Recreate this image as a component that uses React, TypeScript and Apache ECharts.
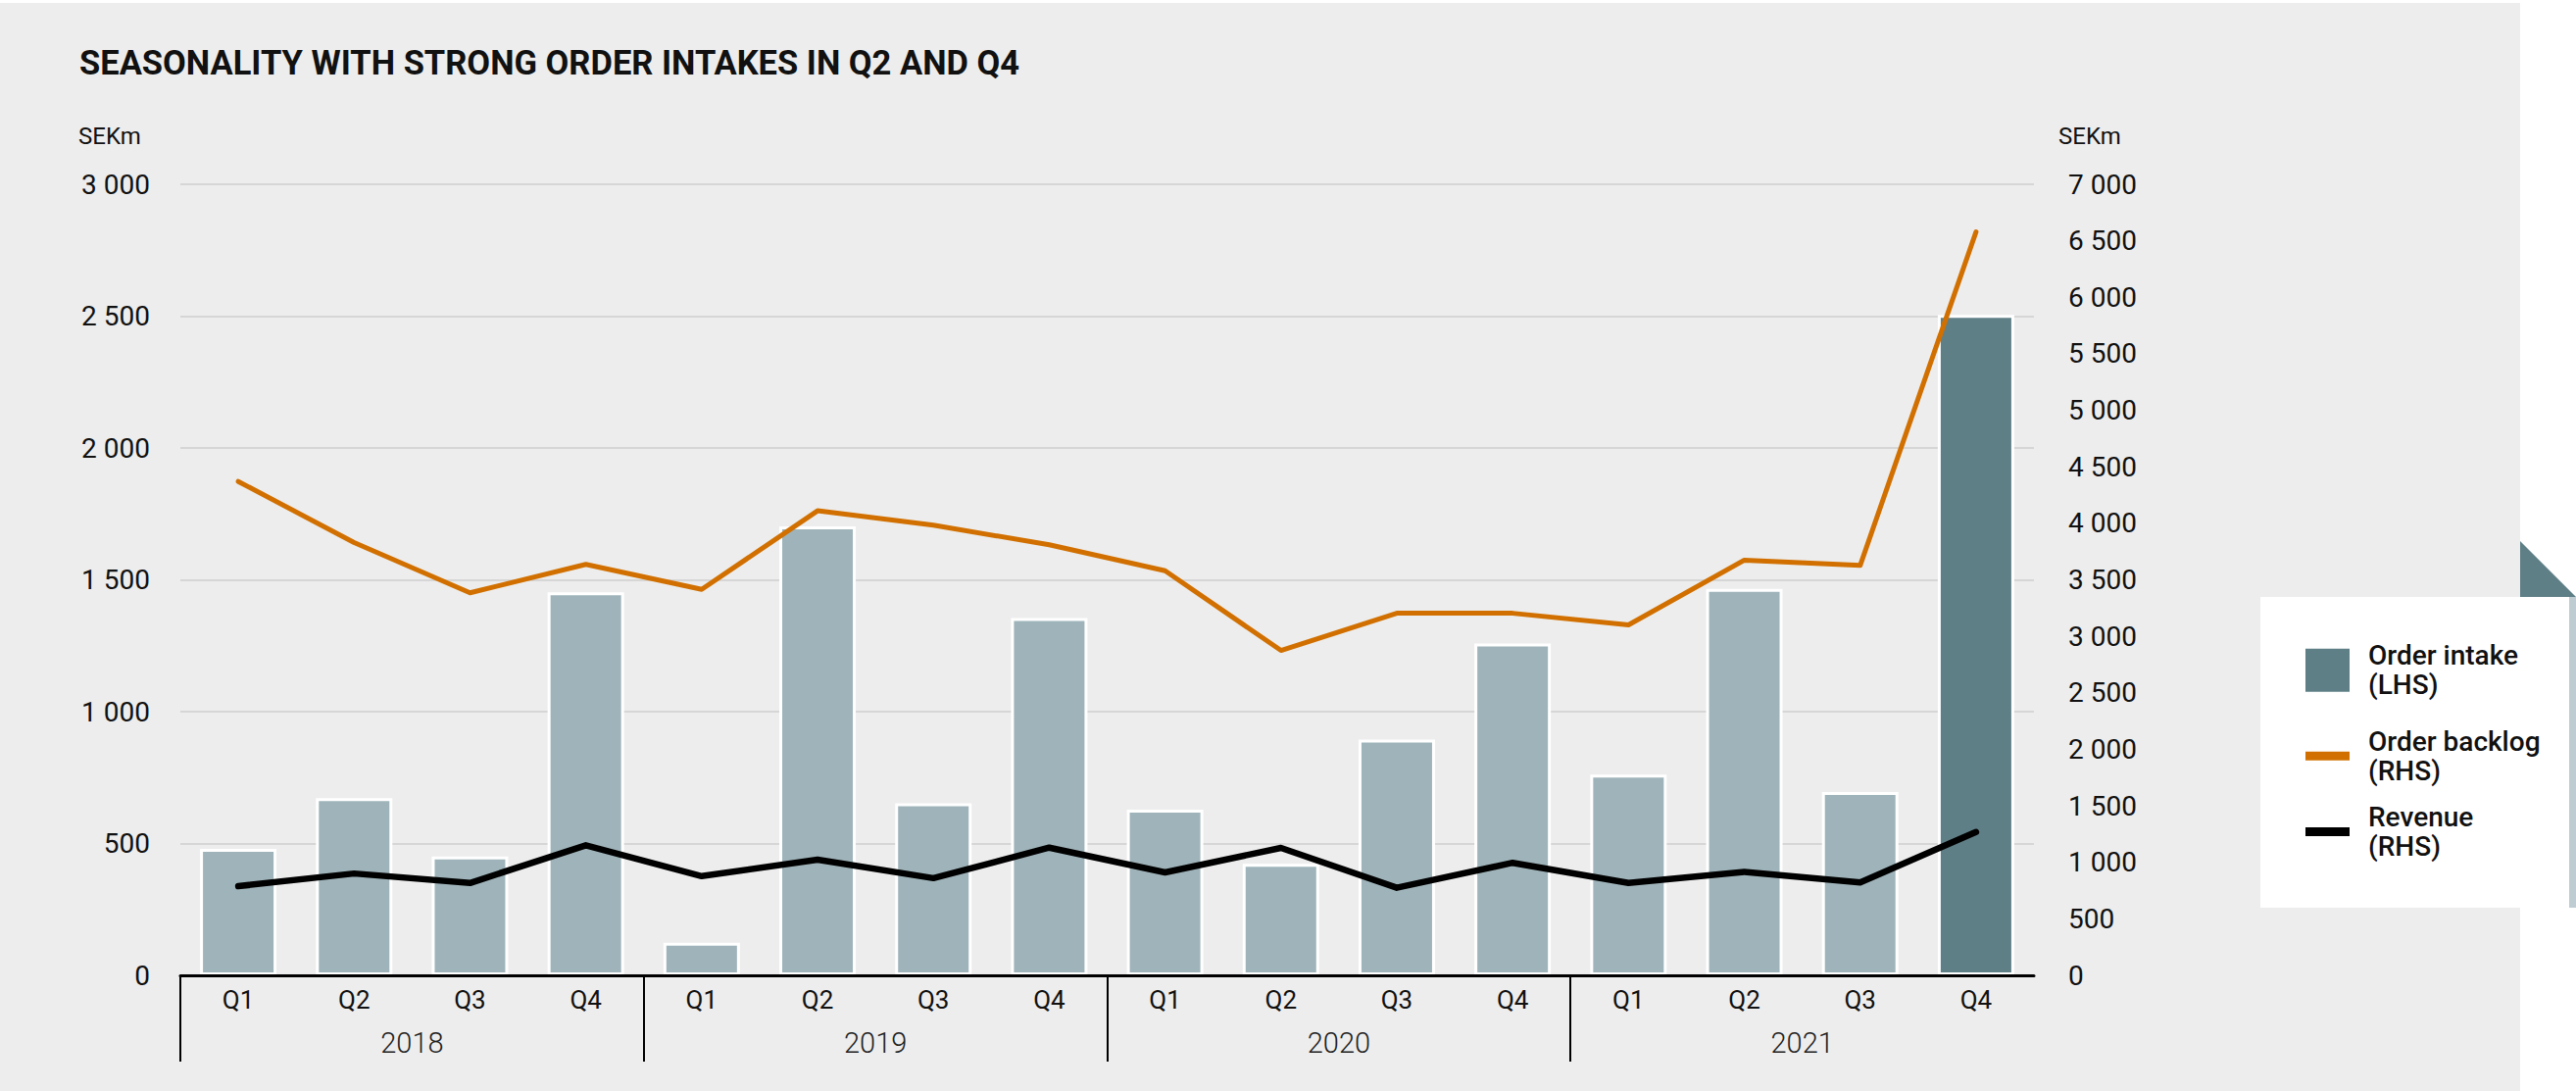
import React, { useEffect, useRef } from "react";
import * as echarts from "echarts";

const TITLE = "SEASONALITY WITH STRONG ORDER INTAKES IN Q2 AND Q4";
const quarters = ["Q1", "Q2", "Q3", "Q4", "Q1", "Q2", "Q3", "Q4", "Q1", "Q2", "Q3", "Q4", "Q1", "Q2", "Q3", "Q4"];
const years = ["2018", "2019", "2020", "2021"];
const yearStartIndices = [0, 4, 8, 12];
const orderIntake = [480, 672, 451, 1453, 124, 1703, 652, 1355, 628, 423, 894, 1258, 761, 1466, 695, 2505];
const orderBacklog = [4370, 3830, 3385, 3637, 3415, 4111, 3983, 3810, 3580, 2875, 3204, 3204, 3101, 3674, 3627, 6578];
const revenue = [789, 901, 817, 1151, 878, 1024, 860, 1130, 911, 1128, 775, 996, 817, 916, 822, 1268];
const unitLabel = "SEKm";

const LIGHT = "#9FB4BA";
const DARK = "#5F7F87";
const ORANGE = "#D17000";
const FONT = "Roboto";

const fmt = (v: number) => String(v).replace(/\B(?=(\d{3})+(?!\d))/g, " ");

export default function App() {
  const ref = useRef<HTMLDivElement>(null);
  useEffect(() => {
    document.body.style.margin = "0";
    const chart = echarts.init(ref.current!, undefined, { renderer: "svg" });
    const legendText = {
      fontFamily: FONT,
      fontSize: 28,
      fontWeight: 500,
      lineHeight: 30,
      color: "#111",
      padding: [0, 0, 0, 14],
    };
    chart.setOption({
      animation: false,
      backgroundColor: "#ffffff",
      title: {
        text: TITLE,
        left: 76,
        top: 41,
        textStyle: { fontFamily: FONT, fontWeight: "bold", fontSize: 34.5, color: "#111" },
      },
      grid: { left: 184, right: 553, top: 188, bottom: 118, containLabel: false },
      legend: [
        {
          data: [{ name: "Order intake", icon: "rect", itemStyle: { color: DARK, borderWidth: 0 } }],
          formatter: (n: string) => n + "\n(LHS)",
          left: 2352, top: 653.7, itemWidth: 45, itemHeight: 44, padding: 0,
          selectedMode: false, textStyle: legendText,
        },
        {
          data: [{ name: "Order backlog", icon: "rect", itemStyle: { color: ORANGE, borderWidth: 0 } }],
          formatter: (n: string) => n + "\n(RHS)",
          left: 2352, top: 741.2, itemWidth: 45, itemHeight: 9, padding: 0,
          selectedMode: false, textStyle: legendText,
        },
        {
          data: [{ name: "Revenue", icon: "rect", itemStyle: { color: "#000", borderWidth: 0 } }],
          formatter: (n: string) => n + "\n(RHS)",
          left: 2352, top: 818.5, itemWidth: 45, itemHeight: 9, padding: 0,
          selectedMode: false, textStyle: legendText,
        },
      ],
      xAxis: [
        {
          type: "category",
          data: quarters,
          position: "bottom",
          offset: 0,
          z: 10,
          axisLine: { show: true, onZero: false, lineStyle: { color: "#000", width: 3 } },
          axisTick: { show: false },
          axisLabel: { interval: 0, fontFamily: FONT, fontSize: 26, margin: 12, color: "#111" },
        },
        {
          type: "category",
          data: years,
          position: "bottom",
          offset: 0,
          axisLine: { show: false, onZero: false },
          axisTick: { show: false },
          axisLabel: { interval: 0, fontFamily: FONT, fontSize: 29, fontWeight: 300, margin: 54, color: "#222" },
        },
      ],
      yAxis: [
        {
          type: "value",
          min: 0,
          max: 3000,
          interval: 500,
          position: "left",
          axisLine: { show: false },
          axisTick: { show: false },
          splitLine: { show: true, lineStyle: { color: "#D6D6D6", width: 2 } },
          axisLabel: { formatter: fmt, fontFamily: FONT, fontSize: 28, margin: 31, color: "#111" },
        },
        {
          type: "value",
          min: 0,
          max: 7000,
          interval: 500,
          position: "right",
          axisLine: { show: false },
          axisTick: { show: false },
          splitLine: { show: false },
          axisLabel: { formatter: fmt, fontFamily: FONT, fontSize: 28, margin: 35, color: "#111" },
        },
      ],
      series: [
        {
          name: "Order intake",
          type: "bar",
          xAxisIndex: 0,
          yAxisIndex: 0,
          barWidth: "66%",
          itemStyle: { color: LIGHT, borderColor: "#ffffff", borderWidth: 3 },
          data: orderIntake.map((v, i) =>
            i === orderIntake.length - 1 ? { value: v, itemStyle: { color: DARK } } : v
          ),
        },
        {
          name: "Order backlog",
          type: "line",
          xAxisIndex: 0,
          yAxisIndex: 1,
          symbol: "none",
          data: orderBacklog,
          itemStyle: { color: ORANGE },
          lineStyle: { color: ORANGE, width: 5, cap: "round", join: "round" },
        },
        {
          name: "Revenue",
          type: "line",
          xAxisIndex: 0,
          yAxisIndex: 1,
          symbol: "none",
          data: revenue,
          itemStyle: { color: "#000" },
          lineStyle: { color: "#000", width: 6.5, cap: "round", join: "round" },
        },
        {
          name: "year separators",
          type: "custom",
          xAxisIndex: 0,
          yAxisIndex: 0,
          silent: true,
          z: 6,
          encode: { x: 0, y: 1 },
          data: yearStartIndices.map((i) => [i, 0]),
          renderItem: (params: any, api: any) => {
            const idx = api.value(0);
            const p = api.coord([idx, 0]);
            const w = api.size([1, 0])[0];
            const x = Math.round(p[0] - w / 2);
            return {
              type: "line",
              shape: { x1: x, y1: p[1], x2: x, y2: p[1] + 88 },
              style: { stroke: "#000", lineWidth: 2 },
            };
          },
        },
      ],
      graphic: [
        { type: "rect", z: -10, silent: true, shape: { x: 0, y: 3, width: 2571, height: 1110 }, style: { fill: "#EDEDED" } },
        { type: "polygon", z: 1, silent: true, shape: { points: [[2571, 552], [2628, 609], [2571, 609]] }, style: { fill: DARK } },
        { type: "rect", z: 1, silent: true, shape: { x: 2306, y: 609, width: 315, height: 317 }, style: { fill: "#ffffff" } },
        { type: "rect", z: 1, silent: true, shape: { x: 2621, y: 609, width: 7, height: 317 }, style: { fill: "#BFCDD2" } },
        { type: "text", z: 1, x: 80, y: 138.5, style: { text: unitLabel, fontFamily: FONT, fontSize: 24, fill: "#111", verticalAlign: "middle" } },
        { type: "text", z: 1, x: 2100, y: 138.5, style: { text: unitLabel, fontFamily: FONT, fontSize: 24, fill: "#111", verticalAlign: "middle" } },
      ],
    });
    return () => chart.dispose();
  }, []);
  return <div ref={ref} style={{ width: 2628, height: 1113 }} />;
}
